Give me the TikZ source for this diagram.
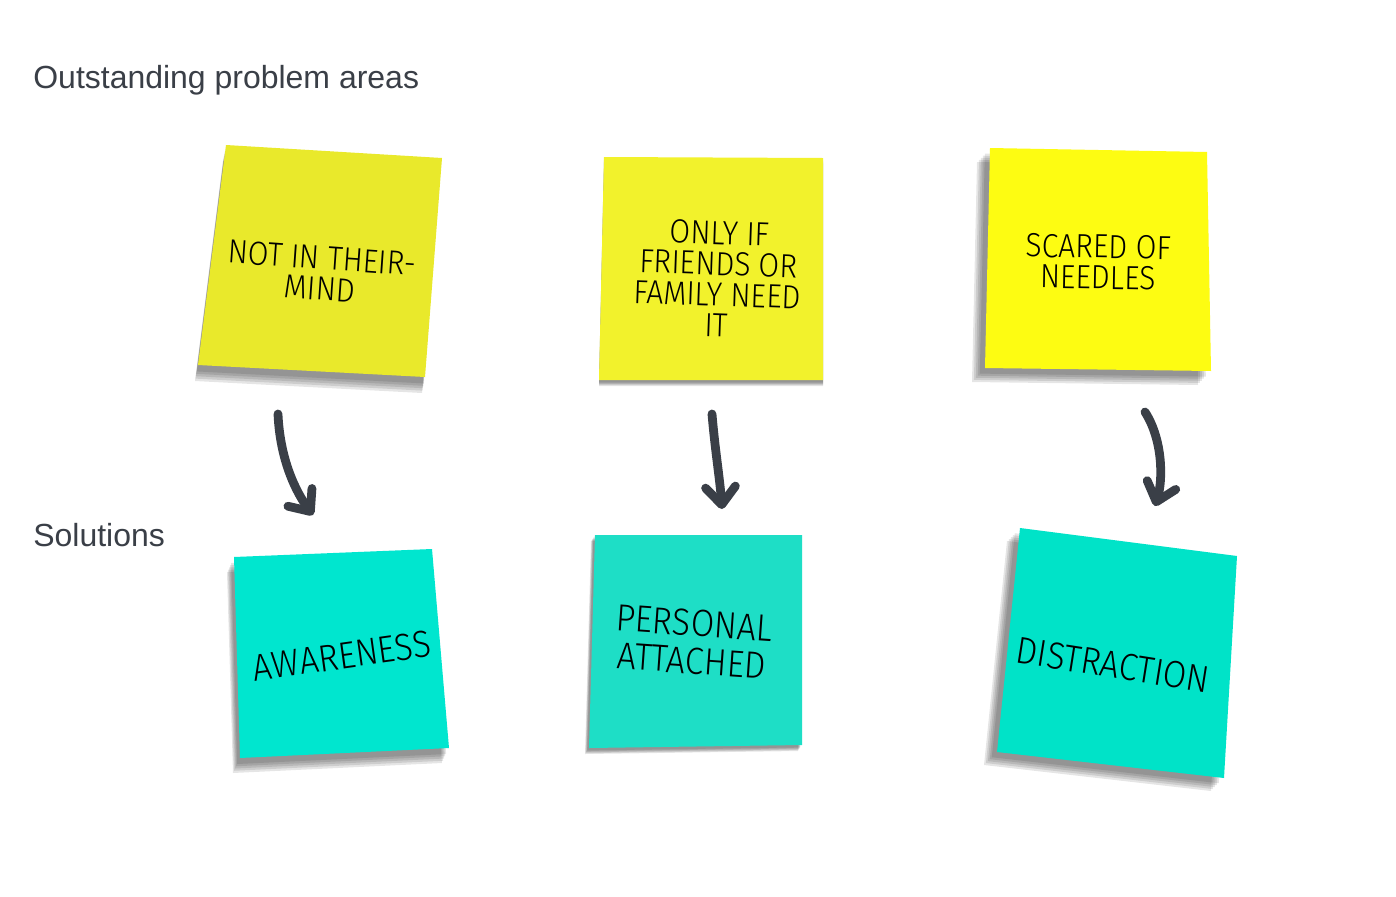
\documentclass[tikz,border=0pt]{standalone}
\usepackage{fontspec}
\setmainfont{Liberation Sans}
\newfontfamily\hand[UprightFont=* Light, FakeStretch=0.9]{Fira Sans}
\usetikzlibrary{arrows.meta,calc}
\definecolor{ink}{HTML}{3A3F47}
\definecolor{yellowA}{HTML}{E9E92B}
\definecolor{yellowB}{HTML}{F2F22C}
\definecolor{yellowC}{HTML}{FDFC12}
\definecolor{cyanA}{HTML}{00E6CF}
\definecolor{cyanB}{HTML}{1EDEC6}
\definecolor{cyanC}{HTML}{00E3C8}
% note with soft shadow: colour, shadow offset, four corners
\newcommand{\sticky}[6]{%
  \foreach \f in {0.4,0.55,0.7,0.85,1.0}
    \fill[black, opacity=0.1, shift={($\f*(#2)$)}] #3 -- #4 -- #5 -- #6 -- cycle;
  \fill[#1] #3 -- #4 -- #5 -- #6 -- cycle;
}
\tikzset{
  heading/.style={anchor=base west, inner sep=0pt, text=ink, font=\fontsize{18.2}{20}\selectfont},
  handtext/.style={align=center, text=black, font=\hand\fontsize{19}{17.5}\selectfont},
  handbig/.style={align=center, text=black, font=\hand\fontsize{21.5}{21.5}\selectfont},
  link/.style={draw=ink, line width=5pt, line cap=round,
    -{Straight Barb[length=10pt,width=17pt,round]}},
}
\begin{document}
\begin{tikzpicture}[x=0.02cm, y=-0.02cm]
    \fill[white] (0,0) rectangle (1396,896);
    \useasboundingbox (0,0) rectangle (1396,896);

    % headings
    \node[heading] (probs) at (33,88) {Outstanding problem areas};
    \node[heading] (sols) at (33,546) {Solutions};

    % problem 1
    \sticky{yellowA}{-3,16}{(226,145)}{(442,158)}{(425,377)}{(198,365)}
    \node[handtext, rotate=-4] (t1) at (321,273) {NOT IN THEIR-\\MIND};

    % problem 2
    \sticky{yellowB}{0,6}{(604,157)}{(823,158)}{(823,380)}{(599,380)}
    \node[handtext, rotate=-2] (t2) at (718,279) {ONLY IF\\FRIENDS OR\\FAMILY NEED\\IT};

    % problem 3
    \sticky{yellowC}{-13,14}{(990,148)}{(1207,152)}{(1211,371)}{(985,368)}
    \node[handtext, rotate=-1] (t3) at (1098,262) {SCARED OF\\NEEDLES};

    % solution 1
    \sticky{cyanA}{-7,15}{(234,557)}{(432,549)}{(449,748)}{(240,758)}
    \node[handbig, rotate=8] (s1) at (342,656) {AWARENESS};

    % solution 2
    \sticky{cyanB}{-4,6}{(595,535)}{(802,535)}{(802,745)}{(589,748)}
    \node[handbig, rotate=-4] (s2) at (693,642) {PERSONAL\\ATTACHED};

    % solution 3
    \sticky{cyanC}{-13,13}{(1020,528)}{(1237,556)}{(1224,778)}{(997,752)}
    \node[handbig, rotate=-9] (s3) at (1113,665) {DISTRACTION};

    % arrows
    \coordinate (a1s) at (278,414);
    \coordinate (a1e) at (313,515);
    \coordinate (a2s) at (712,414);
    \coordinate (a2e) at (722,509);
    \coordinate (a3s) at (1145,412);
    \coordinate (a3e) at (1155,506);
    \draw[link] (a1s) .. controls (280,460) and (296,492) .. (a1e);
    \draw[link] (a2s) .. controls (715,450) and (720,480) .. (a2e);
    \draw[link] (a3s) .. controls (1163,440) and (1163,480) .. (a3e);
\end{tikzpicture}
\end{document}
